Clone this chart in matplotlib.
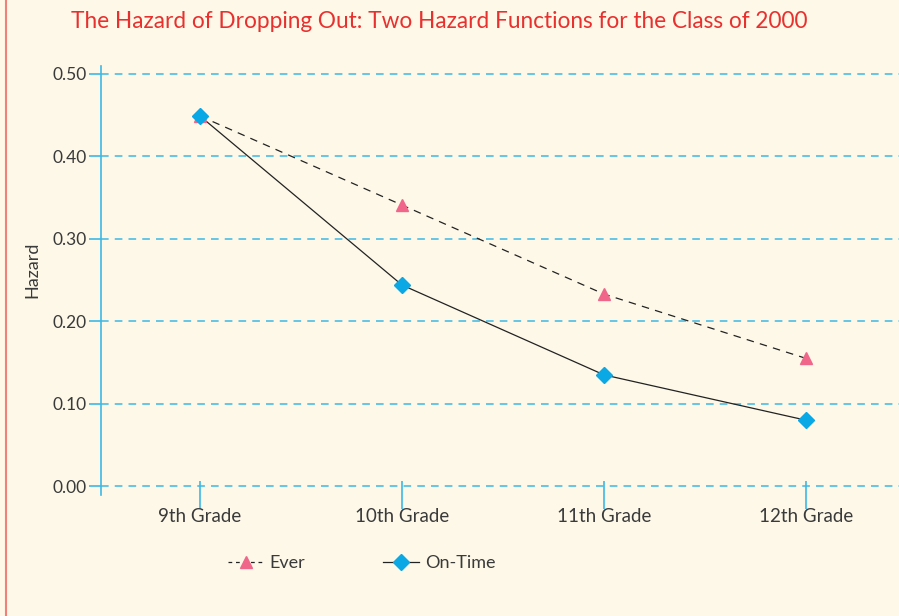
import matplotlib.pyplot as plt
from matplotlib.lines import Line2D

plt.rcParams['font.family'] = ['Lato', 'DejaVu Sans']

grades = ['9th Grade', '10th Grade', '11th Grade', '12th Grade']
ever = [0.449, 0.341, 0.233, 0.155]
on_time = [0.449, 0.244, 0.135, 0.080]
yticks = [0.0, 0.1, 0.2, 0.3, 0.4, 0.5]

bg = '#FDF8E8'
cyan = '#3DB9E6'
ink = '#3a3a3a'

fig = plt.figure(figsize=(8.99, 6.16), dpi=100, facecolor=bg)
ax = fig.add_axes([101 / 899, 1 - 495 / 616, 1 - 101 / 899, (495 - 66) / 616])
ax.set_facecolor(bg)

x = list(range(len(grades)))
ax.plot(x, ever, color='#222222', lw=0.9, ls=(0, (6, 5)), zorder=3)
ax.plot(x, ever, ls='none', marker='^', ms=9, color='#F0668A', zorder=4)
ax.plot(x, on_time, color='#222222', lw=0.9, zorder=3)
ax.plot(x, on_time, ls='none', marker='D', ms=8, color='#0BA8E6', zorder=5)

ax.set_xlim(-0.49, 3.46)
ax.set_ylim(-0.0107, 0.5097)
ax.set_yticks(yticks)
ax.set_yticklabels([f'{v:.2f}' for v in yticks], fontsize=12.5, color=ink)
ax.set_xticks(x)
ax.set_xticklabels(grades, fontsize=13.5, color=ink)

for v in yticks:
    ax.axhline(v, color=cyan, lw=1.1, ls=(0, (5, 4)), zorder=1)

for s in ['top', 'right', 'bottom']:
    ax.spines[s].set_visible(False)
ax.spines['left'].set_color(cyan)
ax.spines['left'].set_linewidth(1.2)

ax.tick_params(axis='y', colors=cyan, labelcolor=ink, length=9, width=1.2, pad=1)
ax.tick_params(axis='x', colors=cyan, labelcolor=ink, direction='inout', length=20, width=1.2, pad=-1)

fig.text(71 / 899, 1 - 22 / 616, 'The Hazard of Dropping Out: Two Hazard Functions for the Class of 2000',
         color='#E8302E', fontsize=16.3, va='center', ha='left')
fig.text(32 / 899, 1 - 270 / 616, 'Hazard', rotation=90, fontsize=13, color=ink, va='center', ha='center')

# left red border line
fig.add_artist(Line2D([6 / 899, 6 / 899], [0, 1], color='#F08078', lw=1.5))

handles = [
    Line2D([], [], color='#222222', lw=0.9, ls=(0, (3, 3)), marker='^', ms=9,
           markerfacecolor='#F0668A', markeredgecolor='#F0668A'),
    Line2D([], [], color='#222222', lw=0.9, marker='D', ms=8,
           markerfacecolor='#0BA8E6', markeredgecolor='#0BA8E6'),
]
fig.legend(handles, ['Ever', 'On-Time'], loc='center left', bbox_to_anchor=(212 / 899, 1 - 563 / 616),
           ncol=2, frameon=False, fontsize=13, handlelength=2.0, columnspacing=4.3,
           handletextpad=0.3, labelcolor=ink)

fig.savefig('out.png', dpi=100, facecolor=bg)
